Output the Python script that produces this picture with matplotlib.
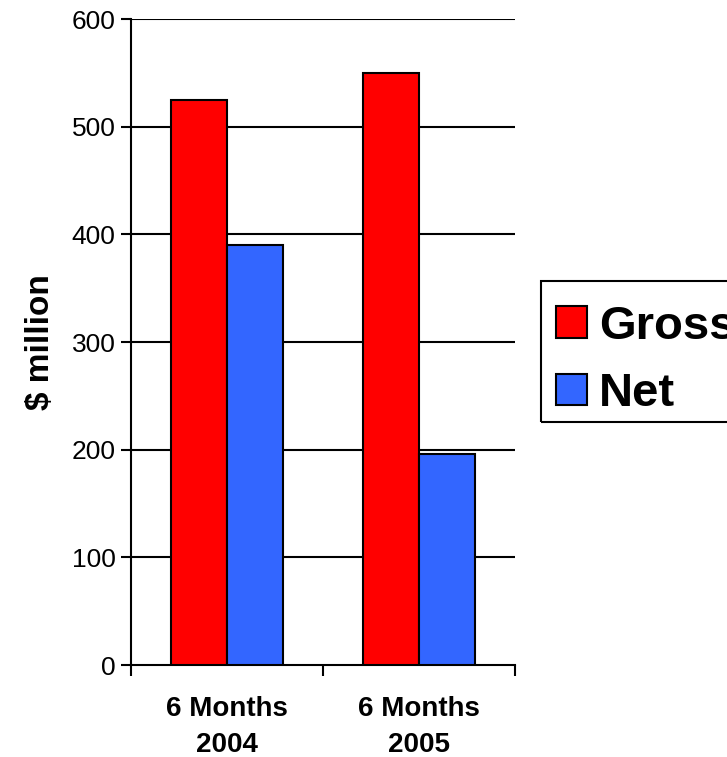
import matplotlib
matplotlib.use("Agg")
import matplotlib.pyplot as plt
from matplotlib.patches import Rectangle
import numpy as np

plt.rcParams['font.family'] = ['Liberation Sans', 'DejaVu Sans']

categories = ['6 Months\n2004', '6 Months\n2005']
gross = [525, 550]
net = [390, 196]
y_ticks = [0, 100, 200, 300, 400, 500, 600]

W, H = 727, 757
fig = plt.figure(figsize=(W / 100, H / 100), dpi=100)
ax = fig.add_axes([0.1802, 0.1215, 0.5282, 0.8534])

x = np.arange(len(categories))
w = 0.29
ax.bar(x - w / 2, gross, w, color='#FF0000', edgecolor='black', linewidth=1.5,
       label='Gross', zorder=3)
ax.bar(x + w / 2, net, w, color='#3366FF', edgecolor='black', linewidth=1.5,
       label='Net', zorder=3)

ax.set_xlim(-0.5, 1.5)
ax.set_ylim(0, 600)
ax.set_yticks(y_ticks)
ax.set_yticklabels([str(v) for v in y_ticks], fontsize=19)

# category labels centred, tick marks on the boundaries
ax.set_xticks(x)
ax.set_xticklabels(categories, fontsize=20, fontweight='bold', linespacing=1.5)
ax.tick_params(axis='x', which='major', length=0, pad=22)
ax.set_xticks([-0.5, 0.5, 1.5], minor=True)
ax.tick_params(axis='x', which='minor', length=8, width=1.5, direction='out')
ax.tick_params(axis='y', length=7, width=1.5, direction='out', pad=4)

for v in y_ticks[1:]:
    ax.axhline(v, color='black', linewidth=1.5, zorder=1)

for s in ['top', 'right']:
    ax.spines[s].set_visible(False)
for s in ['left', 'bottom']:
    ax.spines[s].set_linewidth(1.5)

ax.set_ylabel('$ million', fontsize=24, fontweight='bold', labelpad=11)

# legend entries, with the box drawn separately so it runs off the right edge
fig.legend(loc='upper left', bbox_to_anchor=(539 / W, 1 - 288 / H),
           prop={'size': 34, 'weight': 'bold'}, frameon=False,
           handlelength=0.66, handleheight=0.66,
           handletextpad=0.26, borderpad=0.35, labelspacing=0.5,
           borderaxespad=0)
fig.add_artist(Rectangle((541 / W, 1 - 422 / H), 240 / W, 141 / H,
                         transform=fig.transFigure, fill=False,
                         edgecolor='black', linewidth=1.5))

fig.savefig('out.png', dpi=100)
